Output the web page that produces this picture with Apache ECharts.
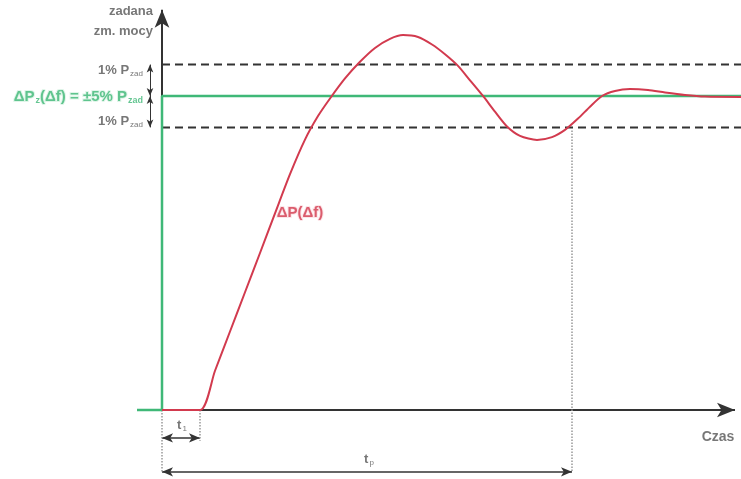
<!DOCTYPE html>
<html>
<head>
<meta charset="utf-8">
<script src="https://cdn.jsdelivr.net/npm/echarts@6/dist/echarts.min.js"></script>
<style>html,body{margin:0;padding:0;background:#fff}#c{width:741px;height:479px}</style>
</head>
<body>
<div id="c"></div>
<script>
// ---- data (time units / % of set power change) ----
const responseTime = [0, 3.8, 5.3, 6.8, 8.3, 9.8, 11.3, 12.8, 14.3, 15.6, 16.8, 18.3, 19.8, 21.3, 22.8, 24.1, 25.6, 27.0, 28.3, 29.6, 30.8, 32.1, 33.3, 34.5, 35.8, 37.5, 39.0, 40.3, 41.6, 42.8, 44.0, 45.3, 46.8, 48.6, 50.3, 52.3, 54.3, 57.9];
const responsePower = [0, 0, 12.5, 25.0, 37.5, 50.0, 62.6, 75.1, 86.1, 93.6, 99.2, 105.6, 110.9, 115.3, 118.2, 119.4, 118.8, 116.4, 113.3, 109.6, 105.0, 100.0, 95.0, 90.3, 87.3, 86.0, 86.9, 89.2, 92.8, 96.6, 100.0, 101.6, 102.2, 101.9, 101.1, 100.3, 99.8, 99.7];
const stepTime = [-2.5, 0, 0, 57.9];
const stepPower = [0, 0, 100, 100];
const setPoint = 100;
const bandUpper = 110;
const bandLower = 90;
const t1 = 3.8;
const tp = 41;
const timeEnd = 57.9;
const axisTop = 127.5;
const axisRight = 57.3;

const GREEN = '#3fb877';
const RED = '#d23a4e';
const DARK = '#333';
const GREY = '#555';

const pairs = (xs, ys) => xs.map((x, i) => [x, ys[i]]);

function arrowLine(a, b, symA, symB, size, color, width, type) {
  return [
    {coord: a, symbol: symA, symbolSize: size, lineStyle: {color: color, width: width, type: type || 'solid'}},
    {coord: b, symbol: symB, symbolSize: size}
  ];
}

const FONT = 'Liberation Sans';
const sub = {fontSize: 8, color: GREY, verticalAlign: 'bottom', padding: [7, 0, 0, 1], fontFamily: FONT};
const labelData = [
  {value: [-0.9, 126.8], label: {formatter: '{t|zadana}', align: 'right'}},
  {value: [-0.9, 120.7], label: {formatter: '{t|zm. mocy}', align: 'right'}},
  {value: [-1.9, 108.3], label: {formatter: '{m|1% P}{s|zad}', align: 'right'}},
  {value: [-1.9, 92.0], label: {formatter: '{m|1% P}{s|zad}', align: 'right'}},
  {value: [-1.9, 99.7], label: {formatter: '{g|ΔP}{gs|z}{g|(Δf) = ±5% P}{gs|zad}', align: 'right'}},
  {value: [13.8, 62.7], label: {formatter: '{r|ΔP(Δf)}', align: 'center'}},
  {value: [2.0, -4.8], label: {formatter: '{m|t}{s|1}', align: 'center'}},
  {value: [20.7, -15.6], label: {formatter: '{m|t}{s|p}', align: 'center'}},
  {value: [55.6, -8.6], label: {formatter: '{c|Czas}', align: 'center'}}
];

const chart = echarts.init(document.getElementById('c'), null, {renderer: 'canvas'});
chart.setOption({
  animation: false,
  backgroundColor: '#fff',
  grid: {left: 0, right: 0, top: 0, bottom: 0},
  xAxis: {type: 'value', min: -16.2, max: 57.9, show: false},
  yAxis: {type: 'value', min: -21.97, max: 130.57, show: false},
  series: [
    {
      type: 'line', silent: true, symbol: 'none', z: 1,
      data: [[0, bandUpper], [timeEnd, bandUpper]],
      lineStyle: {color: DARK, width: 2, type: [8, 5]}
    },
    {
      type: 'line', silent: true, symbol: 'none', z: 1,
      data: [[0, bandLower], [timeEnd, bandLower]],
      lineStyle: {color: DARK, width: 2, type: [8, 5]}
    },
    {
      type: 'line', silent: true, symbol: 'none', z: 2,
      data: [],
      markLine: {
        silent: true, animation: false, z: 2,
        label: {show: false},
        data: [
          arrowLine([0, 0], [axisRight, 0], 'none', 'arrow', [11, 18], DARK, 2),
          arrowLine([0, 0], [0, axisTop], 'none', 'arrow', [11, 18], DARK, 2),
          arrowLine([-1.2, bandUpper], [-1.2, setPoint], 'arrow', 'arrow', [5, 8], DARK, 1),
          arrowLine([-1.2, setPoint], [-1.2, bandLower], 'arrow', 'arrow', [5, 8], DARK, 1),
          arrowLine([0, -8.9], [t1, -8.9], 'arrow', 'arrow', [7, 11], DARK, 1.5),
          arrowLine([0, -19.7], [tp, -19.7], 'arrow', 'arrow', [7, 11], DARK, 1.5),
          arrowLine([0, 0], [0, -19.7], 'none', 'none', 1, '#999', 1.5, 'dotted'),
          arrowLine([t1, 0], [t1, -9.8], 'none', 'none', 1, '#999', 1.5, 'dotted'),
          arrowLine([tp, 89], [tp, -19.7], 'none', 'none', 1, '#999', 1.5, 'dotted')
        ]
      }
    },
    {
      type: 'line', silent: true, symbol: 'none', z: 3,
      data: pairs(stepTime, stepPower),
      lineStyle: {color: GREEN, width: 2.5}
    },
    {
      type: 'line', silent: true, symbol: 'none', smooth: 0.25, z: 4,
      data: pairs(responseTime, responsePower),
      lineStyle: {color: RED, width: 2}
    },
    {
      type: 'scatter', silent: true, symbolSize: 0, z: 5,
      data: labelData,
      label: {
        show: true, position: 'inside', color: GREY,
        fontFamily: FONT, verticalAlign: 'middle',
        rich: {
          t: {fontSize: 13, color: GREY, fontFamily: FONT, fontWeight: 'bold'},
          c: {fontSize: 14, color: GREY, fontFamily: FONT, fontWeight: 'bold'},
          m: {fontSize: 13, color: GREY, fontFamily: FONT, fontWeight: 'bold'},
          s: sub,
          g: {fontSize: 15, color: GREEN, fontFamily: FONT, fontWeight: 'bold', textBorderColor: '#d8f3e4', textBorderWidth: 2},
          gs: {fontSize: 9, color: GREEN, verticalAlign: 'bottom', padding: [7, 0, 0, 1], fontFamily: FONT, fontWeight: 'bold'},
          r: {fontSize: 15, color: RED, fontFamily: FONT, fontWeight: 'bold', textBorderColor: '#fbe0e4', textBorderWidth: 2}
        }
      }
    }
  ]
});
</script>
</body>
</html>
